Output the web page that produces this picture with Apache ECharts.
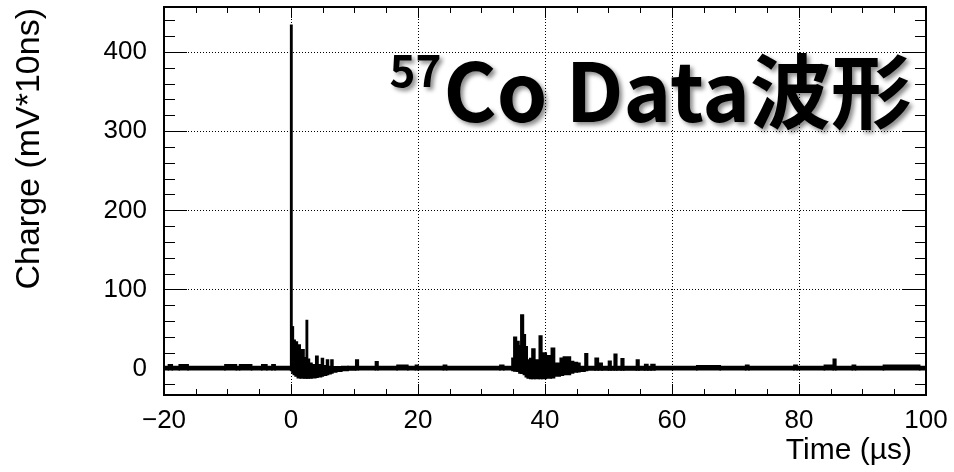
<!DOCTYPE html>
<html><head><meta charset="utf-8">
<script src="https://cdn.jsdelivr.net/npm/echarts@6/dist/echarts.min.js"></script>
<style>html,body{margin:0;padding:0;background:#fff}#c{width:954px;height:472px}</style>
</head><body><div id="c"></div>
<script>
// Time axis range (µs) and charge axis range (mV*10ns)
const xRange = [-20, 100];
const yRange = [-33, 457];
const xTitle = 'Time (µs)';
const yTitle = 'Charge (mV*10ns)';
const chartTitleSup = '57';
const chartTitleMain = 'Co Data波形';

// Waveform: start time, end time, max, min
const binStart = [-20,-19.3,-18.7,-17.6,-16.2,-10.4,-8.6,-8.1,-6.2,-4.6,-3.8,-3.0,-2.5,
  -0.05,0.15,0.37,0.65,1.0,1.45,2.05,2.4,2.6,2.9,3.3,3.9,4.25,4.8,5.1,5.6,5.9,6.3,6.6,7.2,8.0,9.0,
  10.2,10.6,13.3,13.7,16.7,18.4,19.6,20.0,24.0,24.5,32.9,33.5,
  34.8,35.1,35.5,35.9,36.2,36.6,36.9,37.2,37.6,37.95,38.4,39.1,39.5,40.2,41.0,41.5,42.4,42.9,44.0,44.5,45.1,45.5,46.3,46.7,
  47.9,48.4,49.0,50.0,50.4,50.9,51.3,52.0,52.4,54.4,54.8,55.7,56.2,56.7,57.3,
  63.9,67.6,71.6,72.1,79.2,79.7,84.0,85.4,85.8,88.4,88.9,93.3,99.0];
const binEnd = [-19.3,-18.7,-17.6,-16.2,-10.4,-8.6,-8.1,-6.2,-4.6,-3.8,-3.0,-2.5,-0.05,
  0.15,0.37,0.65,1.0,1.45,2.05,2.4,2.6,2.9,3.3,3.9,4.25,4.8,5.1,5.6,5.9,6.3,6.6,7.2,8.0,9.0,10.2,
  10.6,13.3,13.7,16.7,18.4,19.6,20.0,24.0,24.5,32.9,33.5,34.8,
  35.1,35.5,35.9,36.2,36.6,36.9,37.2,37.6,37.95,38.4,39.1,39.5,40.2,41.0,41.5,42.4,42.9,44.0,44.5,45.1,45.5,46.3,46.7,47.9,
  48.4,49.0,50.0,50.4,50.9,51.3,52.0,52.4,54.4,54.8,55.7,56.2,56.7,57.3,63.9,
  67.6,71.6,72.1,79.2,79.7,84.0,85.4,85.8,88.4,88.9,93.3,99.0,100];
const binMax = [2.8,5,2.8,5,2.8,5,2.8,5,2.8,5,2.8,5,2.8,
  434,53,36,34,30,24,14,61,12,7,5,16,5,13,4,11,3,11,2.5,2.5,3,3,
  11,3,9,3,4.5,3,4.5,3,4.5,3,4.5,3,
  13.5,40,34.5,29,68,43,28,11,13,25,11,41.5,20,16.4,26,7,13.5,14.8,9.3,8,7,3,19,3,
  13.5,7,3,9.5,3,18.5,3,12.6,3,11,3,5.5,3,5.5,3,
  4,3,4.5,3,4.5,3,4.5,12,3,4.5,3,4.5,3];
const binMin = [-1.2,-1.2,-1.2,-1.2,-1.2,-1.2,-1.2,-1.2,-1.2,-1.2,-1.2,-1.2,-1.2,
  -2,-5,-7,-9,-11,-11.5,-11.5,-11.5,-11.5,-11.5,-11,-10.5,-10,-9,-8,-7,-6,-5,-4,-3,-2,-1.5,
  -1.2,-1.2,-1.2,-1.2,-1.2,-1.2,-1.2,-1.2,-1.2,-1.2,-1.2,-1.2,
  -2,-2.5,-3,-5,-5.5,-7,-10,-11.5,-12,-12,-12,-12,-12,-11.5,-11,-9,-8,-7,-5,-4,-3.5,-3,-2,-1.5,
  -1.5,-1.5,-1.5,-1.5,-1.5,-1.5,-1.5,-1.5,-1.5,-1.5,-1.5,-1.5,-1.5,-1.5,-1.2,
  -1.2,-1.2,-1.2,-1.2,-1.2,-1.2,-1.2,-1.2,-1.2,-1.2,-1.2,-1.2,-1.2];

const waveData = binStart.map((s, i) => [s, binEnd[i], binMax[i], binMin[i]]);

const FONT = 'Liberation Sans';
const minusFmt = v => (v < 0 ? '\u2212' + Math.abs(v) : String(v));

const chart = echarts.init(document.getElementById('c'), null, {renderer: 'canvas'});
const tickStyle = {color: '#000', width: 1};
const gridLine = {show: true, lineStyle: {color: '#000', type: [1, 2], width: 1}};
const shadow = {textShadowColor: 'rgba(0,0,0,0.45)', textShadowBlur: 4, textShadowOffsetX: 3, textShadowOffsetY: 3};

chart.setOption({
  animation: false,
  backgroundColor: '#fff',
  title: {
    text: '{sup|' + chartTitleSup + '}{m|' + chartTitleMain + '}',
    right: 42, top: 45, padding: 0,
    textStyle: {
      rich: {
        sup: Object.assign({fontFamily: 'Noto Sans CJK JP', fontWeight: 'bold', fontSize: 44, color: '#000', verticalAlign: 'top', lineHeight: 56, padding: [3, 2, 0, 0]}, shadow),
        m: Object.assign({fontFamily: 'Noto Sans CJK JP', fontWeight: 'bold', fontSize: 81, color: '#000', lineHeight: 92}, shadow)
      }
    }
  },
  grid: {left: 164, right: 28, top: 7, bottom: 77, show: true, borderColor: '#000', borderWidth: 2, backgroundColor: 'transparent', outerBoundsMode: 'none'},
  xAxis: [{
    type: 'value', min: xRange[0], max: xRange[1], interval: 20, position: 'bottom',
    axisLine: {show: false, onZero: false},
    axisTick: {inside: true, length: 11, lineStyle: tickStyle},
    minorTick: {show: true, splitNumber: 4, length: 6, lineStyle: tickStyle},
    axisLabel: {fontFamily: FONT, fontSize: 26, color: '#000', margin: 13, formatter: minusFmt},
    splitLine: gridLine,
    name: xTitle, nameLocation: 'end', nameGap: -14,
    nameTextStyle: {fontFamily: FONT, fontSize: 30, color: '#000', align: 'right', verticalAlign: 'top', padding: [41, 0, 0, 0]}
  }, {
    type: 'value', min: xRange[0], max: xRange[1], interval: 20, position: 'top',
    axisLine: {show: false, onZero: false},
    axisTick: {inside: true, length: 11, lineStyle: tickStyle},
    minorTick: {show: true, splitNumber: 4, length: 6, lineStyle: tickStyle},
    axisLabel: {show: false}, splitLine: {show: false}
  }],
  yAxis: [{
    type: 'value', min: yRange[0], max: yRange[1], splitNumber: 5, position: 'left',
    axisLine: {show: false, onZero: false},
    axisTick: {inside: true, length: 23, lineStyle: tickStyle},
    minorTick: {show: true, splitNumber: 5, length: 11, lineStyle: tickStyle},
    axisLabel: {fontFamily: FONT, fontSize: 26, color: '#000', margin: 17, showMinLabel: false, showMaxLabel: false, formatter: minusFmt},
    splitLine: gridLine,
    name: yTitle, nameLocation: 'end', nameGap: -1, nameRotate: 90,
    nameTextStyle: {fontFamily: FONT, fontSize: 34, color: '#000', align: 'right', verticalAlign: 'bottom', padding: [0, 0, 117, 0]}
  }, {
    type: 'value', min: yRange[0], max: yRange[1], splitNumber: 5, position: 'right',
    axisLine: {show: false, onZero: false},
    axisTick: {inside: true, length: 23, lineStyle: tickStyle},
    minorTick: {show: true, splitNumber: 5, length: 11, lineStyle: tickStyle},
    axisLabel: {show: false}, splitLine: {show: false}
  }],
  series: [{
    type: 'custom',
    name: 'waveform',
    xAxisIndex: 0, yAxisIndex: 0,
    clip: true,
    encode: {x: [0, 1], y: [2, 3]},
    data: waveData,
    renderItem: function (params, api) {
      const p0 = api.coord([api.value(0), api.value(2)]);
      const p1 = api.coord([api.value(1), api.value(3)]);
      return {
        type: 'rect',
        shape: {x: p0[0], y: p0[1], width: Math.max(p1[0] - p0[0], 1), height: Math.max(p1[1] - p0[1], 1)},
        style: {fill: '#000', stroke: '#000', lineWidth: 1.6}
      };
    }
  }]
});
</script>
</body></html>
